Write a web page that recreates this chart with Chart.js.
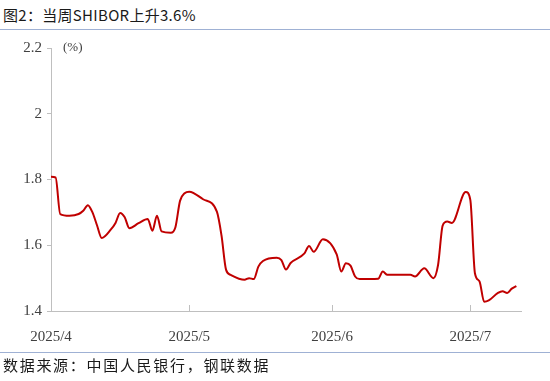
<!DOCTYPE html>
<html>
<head>
<meta charset="utf-8">
<script src="https://cdn.jsdelivr.net/npm/chart.js@4/dist/chart.umd.min.js"></script>
<style>
  body { margin: 0; width: 550px; height: 381px; background: #fff; overflow: hidden; position: relative; }
  #title { position: absolute; left: 3px; top: 4px; font: 15px "Noto Sans CJK SC"; color: #1a1a1a; letter-spacing: 0.3px; }
  #titleLine { position: absolute; left: 0; top: 29px; width: 550px; height: 1px; background: #9fb1d4; }
  #footLine { position: absolute; left: 0; top: 352px; width: 550px; height: 1px; background: #9fb1d4; }
  #foot { position: absolute; left: 3px; top: 354px; font: 15px "Noto Sans CJK SC"; color: #1a1a1a; letter-spacing: 1.7px; }
  #wrap { position: absolute; left: 0; top: 0; width: 550px; height: 381px; }
</style>
</head>
<body>
<div id="title">图2：当周SHIBOR上升3.6%</div>
<div id="titleLine"></div>
<div id="wrap"><canvas id="line_canvas" width="550" height="381"></canvas></div>
<div id="footLine"></div>
<div id="foot">数据来源：中国人民银行，钢联数据</div>
<script>
// SHIBOR values
var dates = [
  '2025-04-01','2025-04-02','2025-04-03','2025-04-05','2025-04-07','2025-04-08','2025-04-09','2025-04-10',
  '2025-04-11','2025-04-12','2025-04-14','2025-04-15','2025-04-16','2025-04-17','2025-04-18','2025-04-20',
  '2025-04-22','2025-04-23','2025-04-24','2025-04-25','2025-04-27','2025-04-28','2025-04-29','2025-04-30',
  '2025-05-01','2025-05-04','2025-05-07','2025-05-08','2025-05-09','2025-05-10','2025-05-13','2025-05-14',
  '2025-05-15','2025-05-16','2025-05-17','2025-05-20','2025-05-21','2025-05-22','2025-05-23','2025-05-26',
  '2025-05-27','2025-05-28','2025-05-30','2025-06-02','2025-06-03','2025-06-04','2025-06-05','2025-06-06',
  '2025-06-07','2025-06-11','2025-06-12','2025-06-13','2025-06-18','2025-06-19','2025-06-21','2025-06-23',
  '2025-06-24','2025-06-25','2025-06-26','2025-06-27','2025-06-30','2025-07-01','2025-07-02','2025-07-03',
  '2025-07-04','2025-07-05','2025-07-07','2025-07-08','2025-07-09','2025-07-10','2025-07-11'
];
var shibor = [
  1.808, 1.806, 1.695, 1.690, 1.695, 1.705, 1.722, 1.700,
  1.660, 1.622, 1.648, 1.668, 1.698, 1.685, 1.652, 1.667,
  1.680, 1.644, 1.690, 1.642, 1.638, 1.655, 1.735, 1.758,
  1.763, 1.740, 1.702, 1.630, 1.525, 1.510, 1.495, 1.500,
  1.497, 1.535, 1.552, 1.562, 1.555, 1.526, 1.546, 1.575,
  1.598, 1.580, 1.618, 1.572, 1.520, 1.545, 1.538, 1.505,
  1.497, 1.498, 1.520, 1.510, 1.510, 1.505, 1.530, 1.500,
  1.540, 1.660, 1.672, 1.668, 1.762, 1.738, 1.515, 1.490,
  1.428, 1.432, 1.455, 1.460, 1.455, 1.468, 1.476
];
var monthTicks = ['2025-04-01', '2025-05-01', '2025-06-01', '2025-07-01'];
var monthLabels = ['2025/4', '2025/5', '2025/6', '2025/7'];
var yTicks = [1.4, 1.6, 1.8, 2.0, 2.2];

// day number counted from 2025-04-01
function dayOf(s) {
    var p = s.split('-');
    return (Date.UTC(+p[0], +p[1] - 1, +p[2]) - Date.UTC(2025, 3, 1)) / 86400000;
}

var points = dates.map(function(d, i) { return { x: dayOf(d), y: shibor[i] }; });
var tickDays = monthTicks.map(dayOf);

var axisGray = '#bfbfbf';
var labelFont = { family: '"Liberation Serif", "Times New Roman", serif', size: 15 };

// "(%)" unit and the small upward ticks on the x axis
var extras = {
    id: 'extras',
    afterDraw: function(chart) {
        var ctx = chart.ctx;
        var x = chart.scales.x, y = chart.scales.y;
        ctx.save();
        ctx.strokeStyle = axisGray;
        ctx.lineWidth = 1;
        tickDays.forEach(function(d) {
            var px = Math.round(x.getPixelForValue(d)) + 0.5;
            ctx.beginPath();
            ctx.moveTo(px, y.bottom);
            ctx.lineTo(px, y.bottom - 6);
            ctx.stroke();
        });
        ctx.fillStyle = '#404040';
        ctx.font = '13px "Liberation Serif", serif';
        ctx.textBaseline = 'middle';
        ctx.fillText('(%)', x.left + 12, y.getPixelForValue(2.2));
        ctx.restore();
    }
};

var context = document.getElementById('line_canvas').getContext('2d');
var chart = new Chart(context, {
    type: 'line',
    data: {
        datasets: [{
            label: 'SHIBOR',
            data: points,
            borderColor: '#c00000',
            borderWidth: 2,
            pointRadius: 0,
            cubicInterpolationMode: 'monotone',
            fill: false
        }]
    },
    options: {
        responsive: false,
        animation: false,
        layout: { padding: { top: 48, right: 29, left: 0, bottom: 0 } },
        plugins: { legend: { display: false }, tooltip: { enabled: false } },
        scales: {
            x: {
                type: 'linear',
                min: 0,
                max: 102,
                afterFit: function(s) { s.height = 70; },
                afterBuildTicks: function(s) { s.ticks = tickDays.map(function(v) { return { value: v }; }); },
                grid: { display: false },
                border: { display: true, color: axisGray, width: 1 },
                ticks: {
                    autoSkip: false,
                    maxRotation: 0,
                    padding: 9,
                    color: '#404040',
                    font: labelFont,
                    callback: function(v) { return monthLabels[tickDays.indexOf(v)]; }
                }
            },
            y: {
                min: 1.4,
                max: 2.2,
                afterFit: function(s) { s.width = 51; },
                afterBuildTicks: function(s) { s.ticks = yTicks.map(function(v) { return { value: v }; }); },
                grid: { drawOnChartArea: false, tickLength: 4, color: axisGray },
                border: { display: true, color: axisGray, width: 1 },
                ticks: {
                    padding: 5,
                    color: '#404040',
                    font: labelFont,
                    callback: function(v) { return String(+v.toFixed(1)); }
                }
            }
        }
    },
    plugins: [extras]
});
</script>
</body>
</html>
